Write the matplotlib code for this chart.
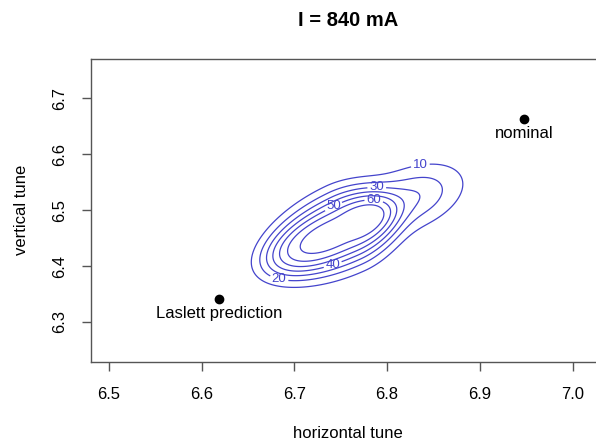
import numpy as np
import matplotlib
matplotlib.use("Agg")
import matplotlib.pyplot as plt

# ---------------- data ----------------
title_text = "I = 840 mA"
x_label = "horizontal tune"
y_label = "vertical tune"
x_ticks = [6.5, 6.6, 6.7, 6.8, 6.9, 7.0]
y_ticks = [6.3, 6.4, 6.5, 6.6, 6.7]
x_limits = [6.4806, 7.035]
y_limits = [6.229, 6.7696]

contour_levels = [10, 20, 30, 40, 50, 60, 70]
# density shape (extents in screen pixels)
core_center = [6.7546, 6.467]
core_height = 75.5
core_angle = 24.7
core_len_low = 86.5
core_len_high = 53.1
core_width = 35.0
core_sharp_low = 4.5
core_sharp_high = 3.8
core_sharp_side = 2.5
halo_center = [6.8232, 6.5193]
halo_height = 31.0
halo_angle = 22.0
halo_len_in = 30.0
halo_len_out = 38.0
halo_width = 20.0

label_levels = [10, 30, 60, 50, 40, 20]
label_x = [6.8355, 6.7888, 6.785, 6.7438, 6.738, 6.6845]
label_y = [6.5839, 6.5477, 6.503, 6.5012, 6.4196, 6.384]

point_names = ["Laslett prediction", "nominal"]
point_x = [6.619, 6.948]
point_y = [6.341, 6.663]

# ---------------- figure ----------------
W, H = 596, 441
fig = plt.figure(figsize=(W / 100, H / 100), dpi=100)
plt.rcParams['font.family'] = ['Liberation Sans', 'DejaVu Sans']
ax_left, ax_right, ax_bot, ax_top = 91, 605, 361.7, 59.3
ax = fig.add_axes([ax_left / W, (H - ax_bot) / H, (ax_right - ax_left) / W, (ax_bot - ax_top) / H])
ax.set_xlim(x_limits)
ax.set_ylim(y_limits)

px_x = (ax_right - ax_left) / (x_limits[1] - x_limits[0])
px_y = (ax_bot - ax_top) / (y_limits[1] - y_limits[0])

gx = np.linspace(6.58, 6.97, 500)
gy = np.linspace(6.32, 6.64, 500)
GX, GY = np.meshgrid(gx, gy)


def rotated(center, angle):
    dX = (GX - center[0]) * px_x
    dY = (GY - center[1]) * px_y
    t = np.deg2rad(angle)
    return dX * np.cos(t) + dY * np.sin(t), -dX * np.sin(t) + dY * np.cos(t)


U, V = rotated(core_center, core_angle)
SU = np.where(U < 0, core_len_low, core_len_high)
QA = np.where(U < 0, core_sharp_low, core_sharp_high)
ua = (U / SU) ** 2
va = (V / core_width) ** 2
rho2 = ua + va + 1e-12
q_eff = core_sharp_side + (QA - core_sharp_side) * ua / rho2
Z = core_height * np.exp(-rho2 ** (q_eff / 2))

U2, V2 = rotated(halo_center, halo_angle)
SL = np.where(U2 < 0, halo_len_in, halo_len_out)
Z += halo_height * np.exp(-0.5 * (U2 / SL) ** 2 - 0.5 * (V2 / halo_width) ** 2)

line_col = '#4444cc'
label_pos = {lev: (lx, ly) for lev, lx, ly in zip(label_levels, label_x, label_y)}
for lev in contour_levels:
    cs = ax.contour(GX, GY, Z, levels=[lev], colors=line_col, linewidths=0.9)
    if lev in label_pos:
        ax.clabel(cs, manual=[label_pos[lev]], inline=True, inline_spacing=2,
                  fontsize=9.5, fmt='%d', colors=line_col)
for t in ax.texts:
    t.set_rotation(0)

ax.plot(point_x, point_y, 'o', color='black', markersize=6)
for name, px, py in zip(point_names, point_x, point_y):
    ax.annotate(name, (px, py), xytext=(0, -5), textcoords='offset points',
                ha='center', va='top', fontsize=12, color='black')

spine_col = '#555555'
for s in ['left', 'bottom', 'top']:
    ax.spines[s].set_color(spine_col)
    ax.spines[s].set_linewidth(1.0)
ax.spines['right'].set_visible(False)
ax.set_xticks(x_ticks)
ax.set_xticklabels([f"{v:.1f}" for v in x_ticks])
ax.set_yticks(y_ticks)
ax.set_yticklabels([f"{v:.1f}" for v in y_ticks], rotation=90, va='center')
ax.tick_params(axis='both', direction='out', length=6.5, width=1.0, color=spine_col,
               labelsize=12, labelcolor='black')
ax.tick_params(axis='x', pad=12)
ax.tick_params(axis='y', pad=10.5)

fig.text((ax_left + ax_right) / 2 / W, 1 - 20 / H, title_text, ha='center', va='center',
         fontsize=14.5, fontweight='bold')
fig.text((ax_left + ax_right) / 2 / W, 1 - 433 / H, x_label, ha='center', va='center', fontsize=12)
fig.text(22 / W, 1 - 210 / H, y_label, ha='center', va='center', rotation=90, fontsize=12)

fig.savefig("out.png", dpi=100)
